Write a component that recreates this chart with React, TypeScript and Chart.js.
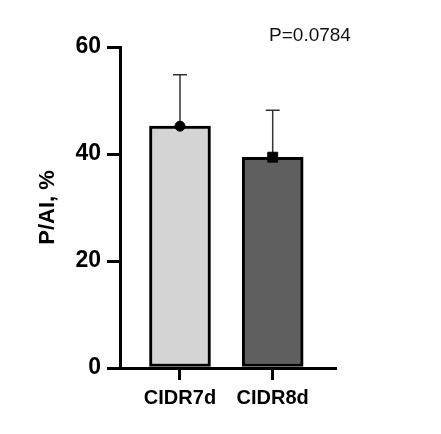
import React, { useEffect, useRef } from "react";
import { Chart, registerables } from "chart.js";

Chart.register(...registerables);

const categories = ["CIDR7d", "CIDR8d"];
const means = [45.2, 39.4];
const sds = [9.6, 8.8];
const barColors = ["#d4d4d4", "#5f5f5f"];
const markerStyles = ["circle", "rect"];
const markerRadius = [5, 7];
const yTicks = [0, 20, 40, 60];
const pValueLabel = "P=0.0784";

const FONT = "'Liberation Sans', Arial, sans-serif";

// error bars (upper half only) drawn right after the bars
const errorBars = {
  id: "errorBars",
  afterDatasetDraw(chart: any, args: any) {
    if (args.meta.type !== "bar") return;
    const { ctx, scales } = chart;
    ctx.save();
    ctx.strokeStyle = "#333";
    ctx.lineWidth = 1.5;
    means.forEach((m, i) => {
      const x = scales.x.getPixelForValue(i);
      const y0 = scales.y.getPixelForValue(m);
      const y1 = scales.y.getPixelForValue(m + sds[i]);
      ctx.beginPath();
      ctx.moveTo(x, y0);
      ctx.lineTo(x, y1);
      ctx.moveTo(x - 7, y1);
      ctx.lineTo(x + 7, y1);
      ctx.stroke();
    });
    ctx.restore();
  },
  afterDraw(chart: any) {
    const { ctx } = chart;
    ctx.save();
    ctx.fillStyle = "#111";
    ctx.font = `19px ${FONT}`;
    ctx.textAlign = "center";
    ctx.textBaseline = "middle";
    ctx.fillText(pValueLabel, 310, 36);
    ctx.restore();
  },
};

const App = () => {
  const canvas = useRef<HTMLCanvasElement>(null);

  useEffect(() => {
    document.body.style.margin = "0";
    const chart = new Chart(canvas.current!, {
      type: "bar",
      data: {
        datasets: [
          {
            type: "bar",
            data: means.map((m, i) => ({ x: i, y: m })),
            backgroundColor: barColors,
            borderColor: "#000",
            borderWidth: 3,
            borderSkipped: false,
            barThickness: 61,
            order: 2,
          } as any,
          ...means.map((m, i) => ({
            type: "scatter",
            data: [{ x: i, y: m }],
            pointStyle: markerStyles[i],
            pointRadius: markerRadius[i],
            backgroundColor: "#000",
            borderColor: "#000",
            order: 1,
          })),
        ],
      },
      options: {
        animation: false,
        responsive: true,
        maintainAspectRatio: false,
        layout: { padding: { top: 47, right: 106, bottom: 0, left: 0 } },
        plugins: { legend: { display: false }, tooltip: { enabled: false } },
        scales: {
          x: {
            type: "linear",
            offset: false,
            min: -0.647,
            max: 1.672,
            afterFit: (s: any) => {
              s.height = 66;
            },
            border: { color: "#000", width: 3 },
            grid: {
              offset: false,
              drawOnChartArea: false,
              drawTicks: true,
              tickLength: 12,
              color: "#000",
              lineWidth: 3,
            },
            ticks: {
              stepSize: 1,
              includeBounds: false,
              padding: 6,
              color: "#000",
              font: { family: FONT, size: 20, weight: "bold" },
              callback: (v: any) => categories[v] ?? "",
            },
          },
          y: {
            min: yTicks[0],
            max: yTicks[yTicks.length - 1],
            afterFit: (s: any) => {
              s.width = 120;
            },
            border: { color: "#000", width: 3 },
            grid: {
              drawOnChartArea: false,
              drawTicks: true,
              tickLength: 13,
              color: "#000",
              lineWidth: 3,
            },
            ticks: {
              stepSize: 20,
              padding: 6,
              color: "#000",
              font: { family: FONT, size: 23, weight: "bold" },
            },
            title: {
              display: true,
              text: "P/AI, %",
              color: "#000",
              padding: { top: 35, bottom: 0 },
              font: { family: FONT, size: 22, weight: "bold" },
            },
          },
        },
      },
      plugins: [errorBars],
    } as any);

    return () => {
      chart.destroy();
    };
  }, []);

  return (
    <div style={{ width: 441, height: 434, background: "#fff" }}>
      <canvas ref={canvas}></canvas>
    </div>
  );
};

export default App;
